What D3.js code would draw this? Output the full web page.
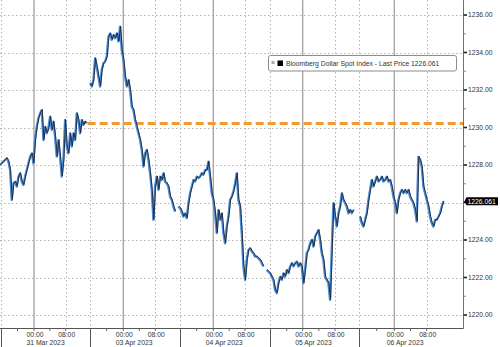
<!DOCTYPE html>
<html><head><meta charset="utf-8">
<script src="https://cdn.jsdelivr.net/npm/d3@7"></script>
<style>
body{margin:0;background:#fff}
svg{display:block}
text{font-family:"Liberation Sans",Arial,sans-serif}
</style>
</head><body>
<svg id="c" width="500" height="347"></svg>
<script>
// ---- data (bar index -> price) ----
const prices = [
1228.00,1228.09,1228.18,1228.27,1228.36,1228.18,1227.73,1226.13,1227.02,1227.11,
1226.84,1227.38,1227.56,1227.11,1226.93,1227.38,1227.73,1228.09,1228.44,1228.62,
1228.09,1229.33,1230.04,1230.49,1230.76,1230.93,1229.33,1230.04,1229.69,1229.96,
1230.58,1229.87,1230.31,1229.51,1228.44,1229.33,1228.44,1227.38,1228.27,1230.40,
1228.98,1228.62,1229.69,1228.98,1229.69,1229.33,1230.76,1230.40,1229.69,1230.40,
1230.13,1230.31,1230.22,null,1232.36,1232.18,1232.53,1233.69,1233.24,1232.71,
1232.18,1233.07,1233.42,1233.51,1233.78,1234.84,1235.02,1234.67,1234.93,1234.76,
1235.02,1234.58,1235.38,1234.13,1233.60,1232.71,1232.18,1232.53,1232.00,1231.11,
1230.93,1230.40,1230.04,1229.69,1229.33,1228.80,1227.91,1228.62,1228.80,1228.27,
1227.56,1226.67,1225.07,1226.84,1227.38,1226.67,1227.38,1227.20,1227.56,1227.11,
1227.02,1226.84,1226.31,1226.13,1225.78,1225.51,null,1225.78,1225.69,1225.51,
1225.24,1225.42,1225.16,1225.96,1226.49,1226.84,1227.20,1227.11,1227.38,1227.29,
1227.38,1227.56,1227.47,1227.73,1227.73,1228.18,1227.38,1226.49,1226.13,1225.42,
1224.36,1225.60,1225.07,1225.42,1224.36,1223.82,1224.71,1225.24,1226.13,1226.31,
1226.58,1227.02,1227.56,1226.13,1225.78,1224.36,1222.58,1221.87,1222.93,1223.47,
1223.56,1223.38,1223.29,1223.11,1223.11,1223.02,1222.93,1222.76,1222.58,null,
1222.40,1222.31,1222.22,1222.04,1221.87,1221.33,1221.16,1221.69,1222.04,1221.87,
1222.22,1222.04,1222.40,1222.22,1222.58,1222.76,1222.58,1222.76,1222.84,1222.58,
1222.76,1222.58,1221.69,1222.40,1223.29,1223.47,1223.82,1224.00,1223.64,1224.18,
1224.36,1224.53,1224.00,1223.29,1222.93,1222.04,1221.87,1221.69,1220.80,1223.47,
1225.96,1225.24,1224.71,1225.42,1225.78,1226.49,1226.13,1225.96,1225.78,1225.42,
1225.60,1225.42,1225.60,null,null,null,1225.24,1224.89,1224.71,1225.07,
1225.42,1226.13,1226.67,1227.20,1226.84,1227.11,1227.38,1227.11,1227.20,1227.38,
1227.11,1227.20,1227.38,1227.11,1227.20,1226.84,1226.31,1225.96,1225.42,1226.13,
1226.49,1226.67,1226.49,1226.67,1226.49,1226.67,1226.31,1226.13,1225.96,1225.60,
1224.98,1228.44,1228.27,1227.91,1226.84,1226.49,1226.13,1225.78,1225.24,1224.89,
1224.71,1225.07,1225.07,1225.24,1225.42,1225.78,1226.061
];
const yTicks = [1220,1222,1224,1226,1228,1230,1232,1234,1236];
const yMinor = [1221,1223,1225,1227,1229,1231,1233,1235];
const midnightIdx = [20.4,74,128,181.6,236.6];
const eightIdx = [39.4,93.2,147,201,256];
const sessionIdx = [0.6,54,108,162,215.6];
const minorIdx = [29.9,83.6,137.5,191.3,246.3,10.5,64,118,172,226];
const dateLabels = ["31 Mar 2023","03 Apr 2023","04 Apr 2023","05 Apr 2023","06 Apr 2023"];
const hourLabels = ["00:00","08:00"];
const lastPrice = 1226.061;
const refLevel = 1230.22;
const refStartIdx = 52.6;
const seriesName = "Bloomberg Dollar Spot Index - Last Price";

// ---- layout ----
const W = 500, H = 347;
const plotR = 463.5, plotB = 328.5;
const svg = d3.select("#c");
const x = d3.scaleLinear().domain([0, 278.1]).range([0, plotR]);
const y = d3.scaleLinear().domain([1220, 1236]).range([315, 15]);
const ly = y(lastPrice);

svg.append("rect").attr("width", W).attr("height", H).attr("fill", "#fff");

// horizontal dotted grid
svg.append("g").selectAll("line").data(yTicks).join("line")
  .attr("x1", 0).attr("x2", plotR).attr("y1", d => Math.round(y(d)) + 0.5).attr("y2", d => Math.round(y(d)) + 0.5)
  .attr("stroke", "#b4b4b4").attr("stroke-width", 1).attr("stroke-dasharray", "1.5,2.5");

// vertical dotted grid (08:00 and session starts)
svg.append("g").selectAll("line").data(eightIdx.concat(sessionIdx)).join("line")
  .attr("x1", d => Math.round(x(d)) + 0.5).attr("x2", d => Math.round(x(d)) + 0.5)
  .attr("y1", 0).attr("y2", plotB)
  .attr("stroke", "#b4b4b4").attr("stroke-width", 1).attr("stroke-dasharray", "1.5,2.5");

// midnight solid lines
svg.append("g").selectAll("line").data(midnightIdx).join("line")
  .attr("x1", d => x(d)).attr("x2", d => x(d))
  .attr("y1", 0).attr("y2", plotB)
  .attr("stroke", "#a6a6a6").attr("stroke-width", 1.4);

// reference orange dashed line
svg.append("line")
  .attr("x1", x(refStartIdx)).attr("x2", plotR)
  .attr("y1", y(refLevel)).attr("y2", y(refLevel))
  .attr("stroke", "#f29a2e").attr("stroke-width", 3).attr("stroke-dasharray", "8,4");

// series
const line = d3.line().defined(d => d != null).x((d, i) => x(i)).y(d => y(d));
svg.append("path").datum(prices).attr("d", line)
  .attr("fill", "none").attr("stroke", "#4a8ad6").attr("stroke-width", 2.2)
  .attr("stroke-linejoin", "round");
svg.append("path").datum(prices).attr("d", line)
  .attr("transform", "translate(0.6,-0.5)")
  .attr("fill", "none").attr("stroke", "#1b2637").attr("stroke-width", 0.9)
  .attr("stroke-linejoin", "round");

// right axis
svg.append("line").attr("x1", plotR).attr("x2", plotR).attr("y1", 0).attr("y2", plotB)
  .attr("stroke", "#707070").attr("stroke-width", 1);
svg.append("g").selectAll("line").data(yTicks).join("line")
  .attr("x1", plotR).attr("x2", plotR + 3.5).attr("y1", d => y(d)).attr("y2", d => y(d))
  .attr("stroke", "#222").attr("stroke-width", 1.6);
svg.append("g").selectAll("line").data(yMinor).join("line")
  .attr("x1", plotR).attr("x2", plotR + 2.5).attr("y1", d => y(d)).attr("y2", d => y(d))
  .attr("stroke", "#888").attr("stroke-width", 1);
// labels hidden behind the last-price tag are not drawn (as in the reference)
svg.append("g").selectAll("text").data(yTicks.filter(d => Math.abs(y(d) - ly) > 9)).join("text")
  .attr("x", plotR + 4.5).attr("y", d => y(d)).attr("dy", "0.35em")
  .attr("font-size", 6.8).attr("fill", "#333")
  .text(d => d3.format(".2f")(d));

// last price tag
svg.append("path")
  .attr("d", `M${plotR + 1},${ly} L${plotR + 3},${ly - 4} L${W - 2},${ly - 4} L${W - 2},${ly + 4} L${plotR + 3},${ly + 4} Z`)
  .attr("fill", "#000");
svg.append("text").attr("x", plotR + 4).attr("y", ly).attr("dy", "0.35em")
  .attr("font-size", 6.8).attr("fill", "#fff").text(d3.format(".3f")(lastPrice));

// bottom axis
svg.append("line").attr("x1", 0).attr("x2", plotR).attr("y1", plotB).attr("y2", plotB)
  .attr("stroke", "#555").attr("stroke-width", 1);
svg.append("g").selectAll("line").data(sessionIdx).join("line")
  .attr("x1", d => Math.round(x(d)) + 0.5).attr("x2", d => Math.round(x(d)) + 0.5)
  .attr("y1", plotB).attr("y2", H)
  .attr("stroke", "#555").attr("stroke-width", 1);
svg.append("g").selectAll("line").data(midnightIdx.concat(eightIdx, minorIdx)).join("line")
  .attr("x1", d => x(d)).attr("x2", d => x(d))
  .attr("y1", plotB).attr("y2", plotB + 2.5)
  .attr("stroke", "#666").attr("stroke-width", 1);

const hourData = midnightIdx.map(d => ({i: d, t: hourLabels[0]}))
  .concat(eightIdx.map(d => ({i: d, t: hourLabels[1]})));
svg.append("g").selectAll("text").data(hourData).join("text")
  .attr("x", d => x(d.i) + 1).attr("y", 336.5).attr("text-anchor", "middle")
  .attr("font-size", 6.8).attr("fill", "#333").text(d => d.t);
svg.append("g").selectAll("text").data(dateLabels).join("text")
  .attr("x", (d, i) => x(midnightIdx[i]) - 7.5).attr("y", 345)
  .attr("font-size", 6.8).attr("fill", "#333").text(d => d);

// legend
const lg = svg.append("g");
lg.append("rect").attr("x", 268.5).attr("y", 55.5).attr("width", 188).attr("height", 15.5)
  .attr("rx", 2).attr("fill", "#fff").attr("stroke", "#8c8c8c").attr("stroke-width", 1);
lg.append("rect").attr("x", 271.5).attr("y", 61).attr("width", 3).attr("height", 3).attr("fill", "#aaa");
lg.append("rect").attr("x", 277.5).attr("y", 60.5).attr("width", 5.5).attr("height", 5.5).attr("fill", "#000");
lg.append("text").attr("x", 286).attr("y", 66).attr("font-size", 6.8).attr("fill", "#333")
  .text(seriesName + " " + d3.format(".3f")(lastPrice));
</script>
</body></html>
